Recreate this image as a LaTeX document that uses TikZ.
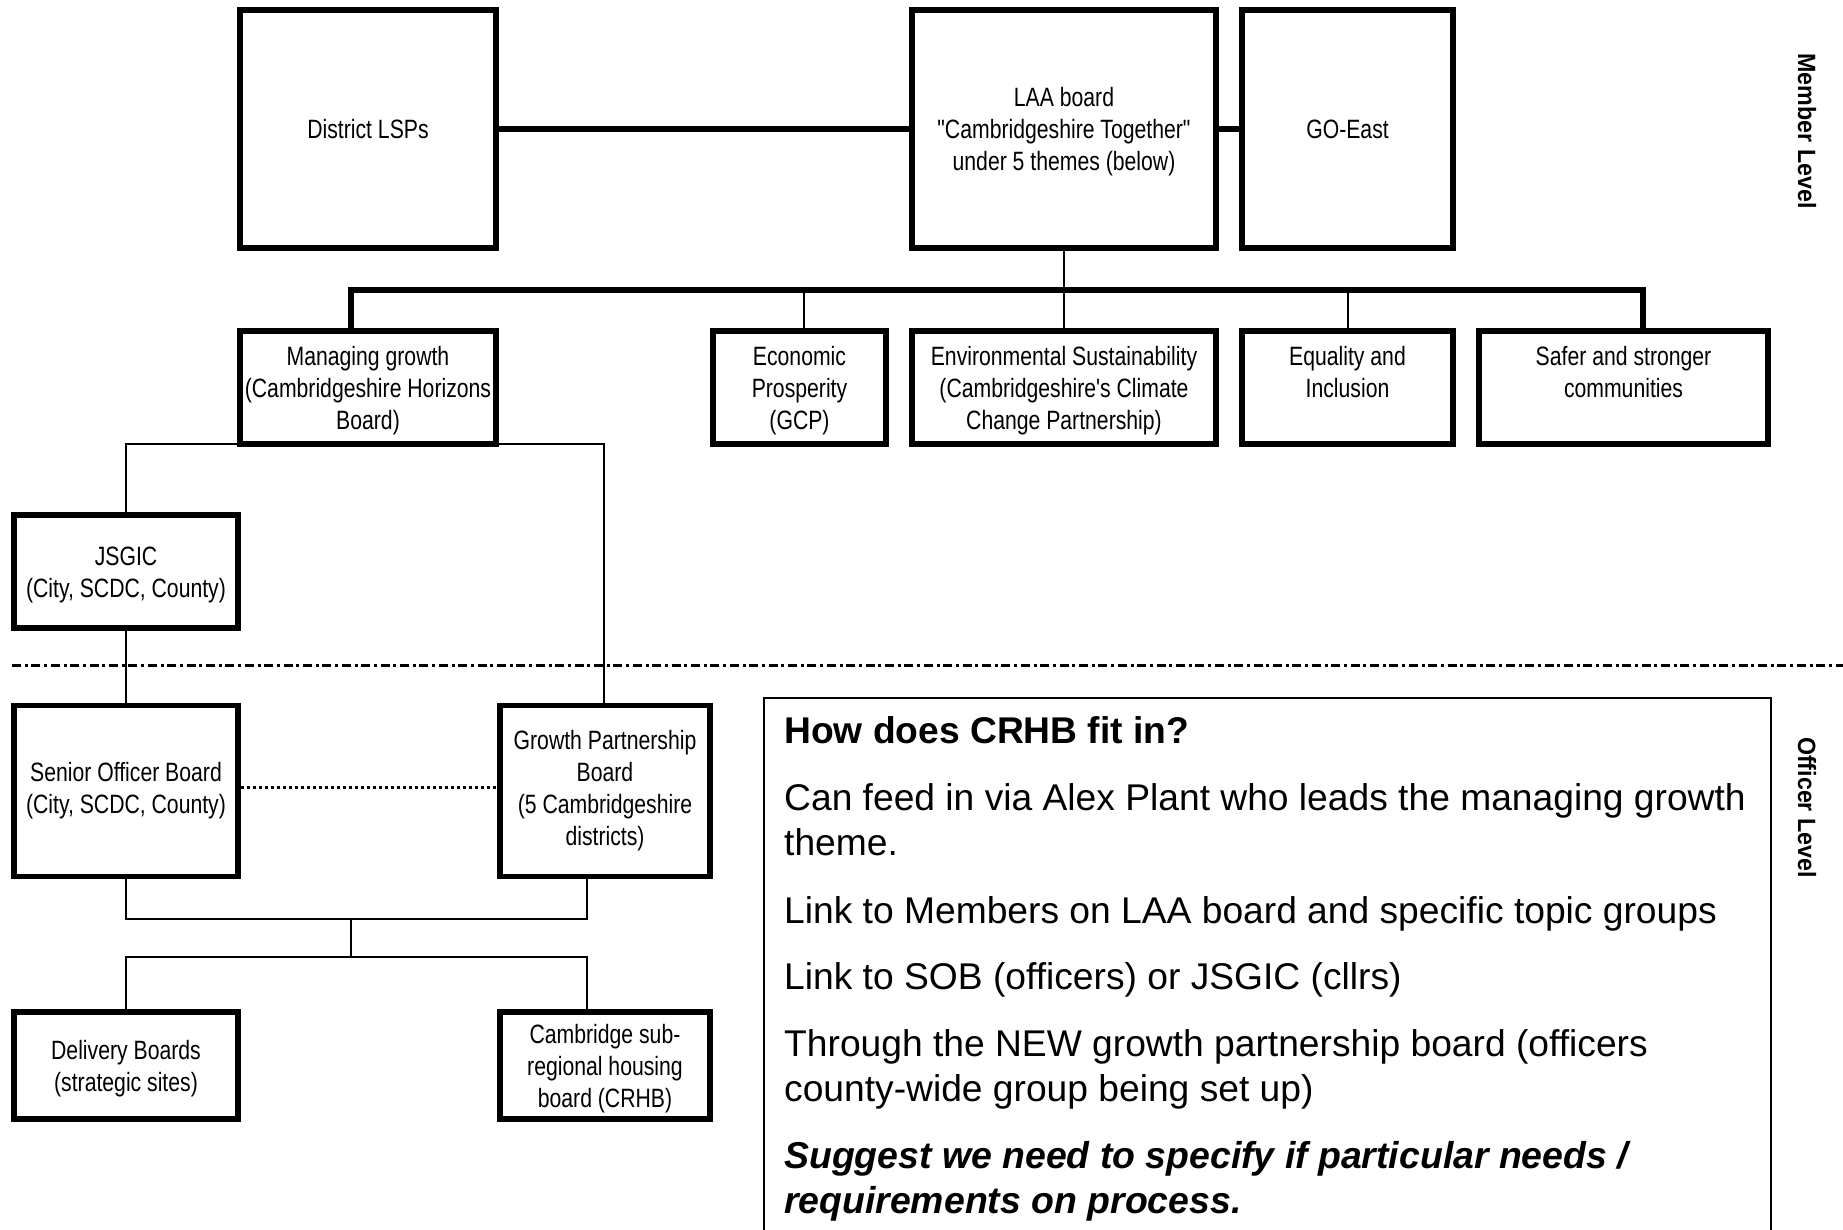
\documentclass[tikz,border=0pt]{standalone}
\usepackage{fontspec}
\setmainfont{Liberation Sans}
\newfontfamily\boxfont[FakeStretch=0.8]{Liberation Sans}
\newfontfamily\lvlfont[FakeStretch=0.93]{Liberation Sans}
\newcommand\toppad[1]{\rule{0pt}{#1pt}}
\begin{document}
\begin{tikzpicture}[x=1pt,y=-1pt]
\tikzset{
  box/.style={draw, line width=5.5pt, inner sep=0pt, align=center,
    font=\boxfont\fontsize{26.5}{32}\selectfont},
  thickconn/.style={line width=6pt, line join=miter},
  thinconn/.style={line width=2pt, line join=miter},
  leveldiv/.style={line width=3.3pt, dash pattern=on 9pt off 3.7pt on 3pt off 3.7pt},
  dotconn/.style={line width=3pt, dash pattern=on 3.5pt off 2.5pt},
  note/.style={anchor=base west, inner sep=0pt, font=\fontsize{37.2}{44.7}\selectfont},
  notehead/.style={anchor=base west, inner sep=0pt, font=\bfseries\fontsize{37.2}{44.7}\selectfont},
  notebi/.style={anchor=base west, inner sep=0pt, font=\bfseries\itshape\fontsize{37.4}{44.7}\selectfont},
  lvl/.style={inner sep=0pt, rotate=-90, font=\lvlfont\bfseries\fontsize{25}{30}\selectfont}
}
\useasboundingbox (0,0) rectangle (1843,1229);
\clip (0,0) rectangle (1843,1229);
\fill[white] (0,0) rectangle (1843,1229);

% top row
\node[box, minimum width=256pt, minimum height=238pt] (lsp) at (368,129) {District LSPs};
\node[box, minimum width=304pt, minimum height=238pt] (laa) at (1064,129) {\toppad{24}LAA board\\"Cambridgeshire Together"\\under 5 themes (below)};
\node[box, minimum width=211pt, minimum height=238pt] (goeast) at (1347.5,129) {GO-East};

% theme row
\node[box, minimum width=256pt, minimum height=113pt] (mg) at (368,387.5) {\toppad{26}Managing growth\\(Cambridgeshire Horizons\\Board)};
\node[box, minimum width=173pt, minimum height=113pt] (ep) at (799.5,387.5) {\toppad{26}Economic\\Prosperity\\(GCP)};
\node[box, minimum width=304pt, minimum height=113pt] (es) at (1064,387.5) {\toppad{26}Environmental Sustainability\\(Cambridgeshire\char"0027 s Climate\\Change Partnership)};
\node[box, minimum width=211pt, minimum height=113pt] (eq) at (1347.5,387.5) {Equality and\\Inclusion\\~};
\node[box, minimum width=289pt, minimum height=113pt] (ss) at (1623.5,387.5) {Safer and stronger\\communities\\~};

% lower left
\node[box, minimum width=224pt, minimum height=113pt] (jsgic) at (126,571.5) {\toppad{25}JSGIC\\(City, SCDC, County)};
\node[box, minimum width=224pt, minimum height=171pt] (sob) at (126,791) {Senior Officer Board\\(City, SCDC, County)};
\node[box, minimum width=210pt, minimum height=171pt] (gpb) at (605,791) {Growth Partnership\\Board\\(5 Cambridgeshire\\districts)};
\node[box, minimum width=224pt, minimum height=107pt] (del) at (126,1065.5) {\toppad{25}Delivery Boards\\(strategic sites)};
\node[box, minimum width=210pt, minimum height=107pt] (crhb) at (605,1065.5) {\toppad{25}Cambridge sub-\\regional housing\\board (CRHB)};

% coordinates
\coordinate (busL) at (351,290);
\coordinate (busR) at (1643,290);
\coordinate (epx) at (804,290);
\coordinate (mgL) at (126,444);
\coordinate (mgR) at (604,444);
\coordinate (sj) at (126,919);
\coordinate (gj) at (587,919);
\coordinate (mj1) at (350.5,919);
\coordinate (mj2) at (350.5,957);
\coordinate (dj) at (126,957);
\coordinate (cj) at (587,957);
\coordinate (divL) at (12,665.5);
\coordinate (divR) at (1843,665.5);

% top connectors
\draw[thickconn] (lsp.east) -- (laa.west);
\draw[thickconn] (laa.east) -- (goeast.west);
\draw[thinconn] (laa.south) -- (es.north);
\draw[thickconn] (mg.north -| busL) -- (busL) -- (busR) -- (ss.north -| busR);
\draw[thinconn] (epx) -- (ep.north -| epx);
\draw[thinconn] (eq.north |- busL) -- (eq.north);

% managing growth branches
\draw[thinconn] (mg.west |- mgL) -- (mgL) -- (jsgic.north);
\draw[thinconn] (mg.east |- mgR) -- (mgR) -- (gpb.north -| mgR);
\draw[thinconn] (jsgic.south) -- (sob.north);

% level divider
\draw[leveldiv] (divL) -- (divR);

% officer level
\draw[dotconn] ([yshift=4pt]sob.east) -- ([yshift=4pt]gpb.west);
\draw[thinconn] (sob.south) -- (sj) -- (gj) -- (gpb.south -| gj);
\draw[thinconn] (mj1) -- (mj2);
\draw[thinconn] (del.north) -- (dj) -- (cj) -- (crhb.north -| cj);

% note box
\node[draw, line width=1.5pt, inner sep=0pt, minimum width=1007pt, minimum height=542pt] (notebox) at (1267.5,969) {};
\node[notehead] (q) at (784,743) {How does CRHB fit in?};
\node[note] (t1) at (784,810) {Can feed in via Alex Plant who leads the managing growth};
\node[note] (t1b) at (784,855) {theme.};
\node[note] (t2) at (784,923) {Link to Members on LAA board and specific topic groups};
\node[note] (t3) at (784,989) {Link to SOB (officers) or JSGIC (cllrs)};
\node[note] (t4) at (784,1056) {Through the NEW growth partnership board (officers};
\node[note] (t4b) at (784,1101.5) {county-wide group being set up)};
\node[notebi] (t5) at (784,1168.5) {Suggest we need to specify if particular needs /};
\node[notebi] (t5b) at (784,1213) {requirements on process.};

% level labels
\node[lvl] (ml) at (1807,131) {Member Level};
\node[lvl] (ol) at (1807,807.5) {Officer Level};
\end{tikzpicture}
\end{document}
